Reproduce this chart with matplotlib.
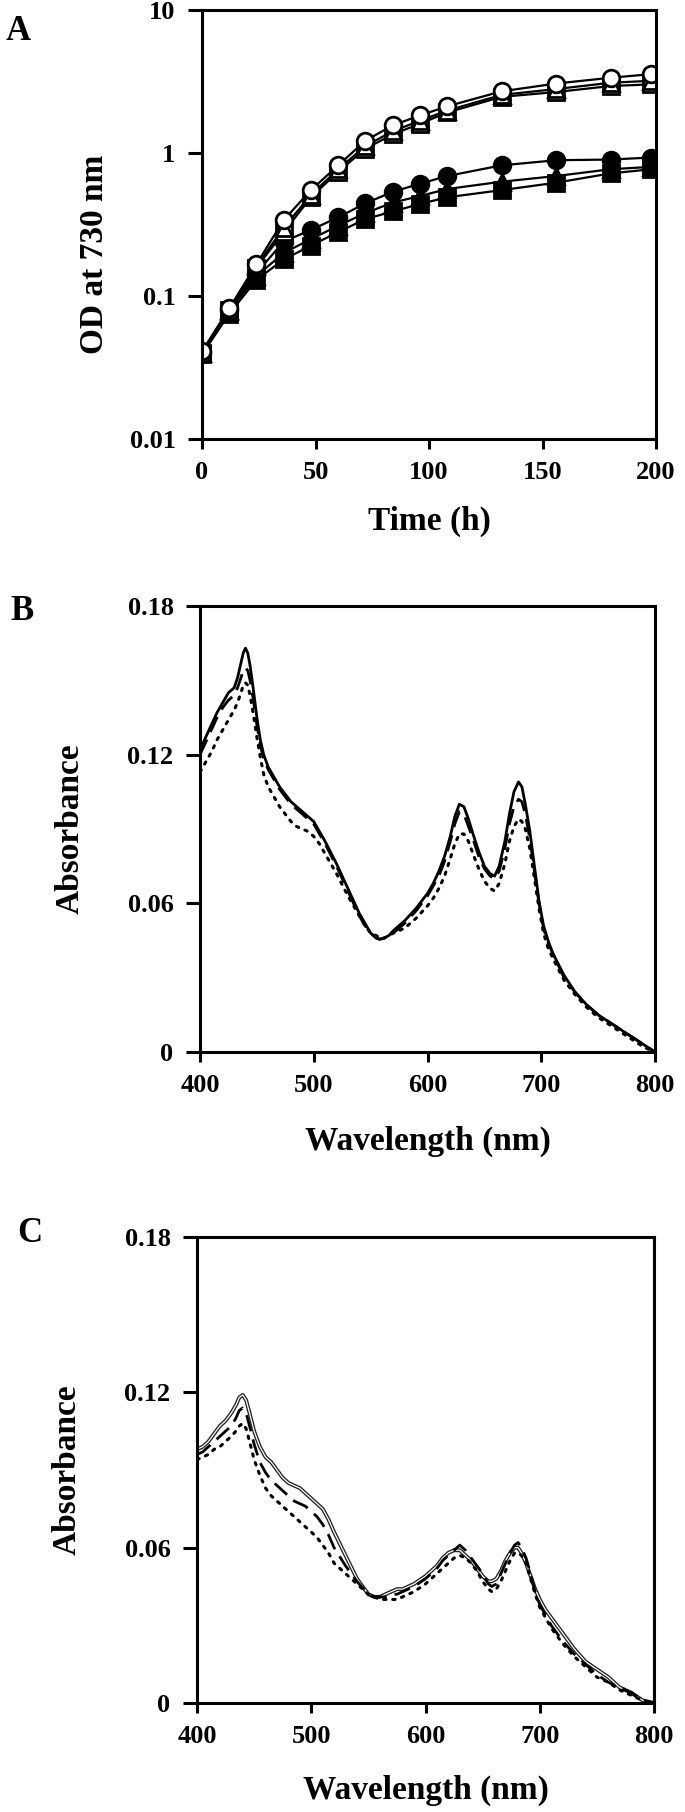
import numpy as np
import matplotlib
matplotlib.use("Agg")
import matplotlib.pyplot as plt
import matplotlib.patheffects as pe
from matplotlib.ticker import FixedLocator, NullLocator

plt.rcParams['font.family'] = ['Liberation Serif', 'DejaVu Serif']
plt.rcParams['font.weight'] = 'bold'

# ---- panel A : growth curves (OD at 730 nm) ----
time_h = [0, 12, 24, 36, 48, 60, 72, 84, 96, 108, 132, 156, 180, 198]
od_open_circle = [0.041, 0.082, 0.167, 0.34, 0.55, 0.82, 1.22, 1.56, 1.83, 2.12, 2.70, 3.06, 3.36, 3.56]
od_open_triangle = [0.040, 0.080, 0.162, 0.30, 0.51, 0.77, 1.12, 1.42, 1.68, 1.98, 2.55, 2.80, 3.10, 3.20]
od_open_square = [0.040, 0.080, 0.158, 0.28, 0.49, 0.74, 1.07, 1.35, 1.60, 1.92, 2.47, 2.67, 2.94, 3.02]
od_fill_circle = [0.040, 0.080, 0.145, 0.24, 0.29, 0.355, 0.445, 0.535, 0.61, 0.69, 0.82, 0.89, 0.90, 0.93]
od_fill_triangle = [0.040, 0.078, 0.138, 0.20, 0.25, 0.31, 0.38, 0.45, 0.50, 0.56, 0.63, 0.69, 0.77, 0.80]
od_fill_square = [0.039, 0.075, 0.130, 0.18, 0.225, 0.28, 0.345, 0.39, 0.44, 0.49, 0.55, 0.62, 0.72, 0.77]

# ---- panel B : absorbance spectra ----
wl_b = [400, 405, 410, 415, 420, 425, 430, 433, 436, 438,
        440, 442, 444, 447, 450, 453, 456, 460, 465, 470,
        475, 480, 485, 490, 495, 500, 505, 510, 520, 530,
        540, 545, 550, 555, 558, 562, 566, 570, 580, 590,
        600, 605, 610, 615, 620, 624, 628, 632, 636, 640,
        645, 650, 655, 659, 663, 668, 672, 676, 680, 683,
        686, 690, 694, 698, 702, 706, 710, 720, 730, 740,
        750, 760, 770, 780, 790, 800]
abs_b_solid = [0.122, 0.127, 0.132, 0.137, 0.141, 0.145, 0.147, 0.151, 0.157, 0.161,
               0.163, 0.161, 0.156, 0.146, 0.135, 0.126, 0.120, 0.115, 0.111, 0.107,
               0.104, 0.101, 0.099, 0.097, 0.095, 0.093, 0.089, 0.085, 0.076, 0.066,
               0.056, 0.052, 0.048, 0.046, 0.0455, 0.046, 0.047, 0.049, 0.053, 0.058,
               0.064, 0.068, 0.073, 0.079, 0.087, 0.095, 0.100, 0.099, 0.094, 0.088,
               0.081, 0.075, 0.072, 0.071, 0.075, 0.085, 0.096, 0.105, 0.109, 0.107,
               0.100, 0.089, 0.075, 0.061, 0.051, 0.045, 0.040, 0.031, 0.024, 0.019,
               0.015, 0.012, 0.009, 0.006, 0.003, 0.000]
abs_b_dash = [0.120, 0.125, 0.130, 0.135, 0.139, 0.142, 0.144, 0.147, 0.151, 0.154,
              0.155, 0.154, 0.150, 0.142, 0.132, 0.124, 0.118, 0.114, 0.110, 0.106,
              0.103, 0.100, 0.098, 0.096, 0.094, 0.092, 0.088, 0.084, 0.075, 0.065,
              0.055, 0.051, 0.048, 0.046, 0.0455, 0.046, 0.047, 0.048, 0.052, 0.057,
              0.063, 0.067, 0.071, 0.077, 0.085, 0.092, 0.097, 0.096, 0.091, 0.086,
              0.079, 0.074, 0.071, 0.070, 0.073, 0.082, 0.092, 0.099, 0.102, 0.101,
              0.096, 0.086, 0.073, 0.060, 0.050, 0.044, 0.040, 0.030, 0.024, 0.019,
              0.015, 0.012, 0.009, 0.006, 0.003, 0.000]
abs_b_dot = [0.113, 0.117, 0.121, 0.126, 0.130, 0.134, 0.138, 0.141, 0.145, 0.148,
             0.149, 0.148, 0.144, 0.136, 0.127, 0.119, 0.112, 0.107, 0.103, 0.099,
             0.096, 0.093, 0.091, 0.090, 0.089, 0.087, 0.084, 0.080, 0.072, 0.063,
             0.055, 0.051, 0.048, 0.047, 0.046, 0.046, 0.047, 0.048, 0.050, 0.054,
             0.059, 0.062, 0.066, 0.071, 0.078, 0.084, 0.088, 0.088, 0.085, 0.080,
             0.074, 0.069, 0.066, 0.065, 0.068, 0.076, 0.085, 0.091, 0.094, 0.093,
             0.090, 0.082, 0.070, 0.058, 0.048, 0.042, 0.038, 0.029, 0.023, 0.018,
             0.014, 0.011, 0.008, 0.005, 0.002, 0.000]

# ---- panel C : absorbance spectra ----
wl_c = [400, 405, 410, 415, 420, 425, 430, 434, 437, 440,
        443, 446, 450, 455, 460, 465, 470, 475, 480, 485,
        490, 495, 500, 505, 510, 515, 520, 530, 540, 550,
        555, 560, 565, 570, 575, 580, 590, 600, 610, 615,
        620, 625, 630, 635, 640, 645, 650, 655, 658, 662,
        666, 670, 674, 678, 681, 684, 688, 692, 696, 700,
        705, 710, 720, 730, 740, 750, 760, 770, 780, 790,
        800]
abs_c_solid = [0.098, 0.099, 0.101, 0.104, 0.107, 0.109, 0.112, 0.115, 0.118, 0.119,
               0.117, 0.112, 0.105, 0.099, 0.095, 0.093, 0.090, 0.087, 0.085, 0.084,
               0.083, 0.081, 0.079, 0.077, 0.075, 0.071, 0.066, 0.057, 0.048, 0.042,
               0.041, 0.041, 0.042, 0.043, 0.044, 0.044, 0.046, 0.049, 0.053, 0.056,
               0.058, 0.059, 0.059, 0.057, 0.055, 0.052, 0.049, 0.047, 0.047, 0.048,
               0.051, 0.055, 0.058, 0.060, 0.060, 0.058, 0.054, 0.049, 0.044, 0.040,
               0.036, 0.033, 0.027, 0.021, 0.016, 0.013, 0.010, 0.006, 0.004, 0.001,
               0.000]
abs_c_dash = [0.096, 0.097, 0.099, 0.101, 0.103, 0.105, 0.107, 0.110, 0.113, 0.114,
              0.112, 0.107, 0.100, 0.093, 0.089, 0.086, 0.084, 0.082, 0.080, 0.078,
              0.077, 0.076, 0.074, 0.072, 0.069, 0.065, 0.060, 0.053, 0.047, 0.042,
              0.041, 0.041, 0.041, 0.042, 0.042, 0.043, 0.045, 0.048, 0.052, 0.055,
              0.057, 0.059, 0.061, 0.059, 0.056, 0.053, 0.050, 0.046, 0.045, 0.046,
              0.050, 0.054, 0.058, 0.061, 0.062, 0.060, 0.056, 0.050, 0.043, 0.038,
              0.034, 0.030, 0.024, 0.019, 0.015, 0.011, 0.008, 0.006, 0.004, 0.001,
              0.000]
abs_c_dot = [0.094, 0.095, 0.096, 0.098, 0.099, 0.101, 0.103, 0.105, 0.107, 0.108,
             0.106, 0.101, 0.094, 0.088, 0.083, 0.080, 0.078, 0.076, 0.074, 0.072,
             0.070, 0.068, 0.066, 0.064, 0.061, 0.058, 0.054, 0.050, 0.046, 0.042,
             0.041, 0.040, 0.040, 0.040, 0.040, 0.041, 0.043, 0.046, 0.050, 0.052,
             0.054, 0.056, 0.057, 0.056, 0.054, 0.051, 0.047, 0.044, 0.043, 0.044,
             0.047, 0.051, 0.055, 0.058, 0.058, 0.057, 0.054, 0.048, 0.042, 0.037,
             0.033, 0.029, 0.023, 0.018, 0.014, 0.010, 0.008, 0.005, 0.003, 0.001,
             0.000]

W, H = 685, 1812
fig = plt.figure(figsize=(W / 100, H / 100), dpi=100)


def make_axes(left, top, right, bottom):
    return fig.add_axes([left / W, 1 - bottom / H, (right - left) / W, (bottom - top) / H])


def style(ax):
    for s in ax.spines.values():
        s.set_linewidth(2.2)
        s.set_color('black')
    ax.tick_params(axis='y', direction='out', length=10, width=2.2, pad=9, labelsize=19)
    ax.tick_params(axis='x', direction='out', length=7.5, width=2.2, pad=8, labelsize=19)
    for lab in ax.get_xticklabels() + ax.get_yticklabels():
        lab.set_fontweight('bold')


# panel A
axA = make_axes(202, 10, 656, 439)
mk = dict(color='black', lw=1.6, ms=12, mew=2)
axA.plot(time_h, od_fill_square, marker='s', mfc='black', mec='black', **mk)
axA.plot(time_h, od_fill_triangle, marker='^', mfc='black', mec='black', **mk)
axA.plot(time_h, od_fill_circle, marker='o', mfc='black', mec='black', **mk)
axA.plot(time_h, od_open_square, marker='s', mfc='white', mec='black', **mk)
axA.plot(time_h, od_open_triangle, marker='^', mfc='white', mec='black', **mk)
axA.plot(time_h, od_open_circle, marker='o', mfc='white', mec='black', **mk)
axA.set_yscale('log')
axA.set_ylim(0.01, 10)
axA.set_xlim(0, 200)
axA.yaxis.set_major_locator(FixedLocator([0.01, 0.1, 1, 10]))
axA.yaxis.set_minor_locator(NullLocator())
axA.set_yticklabels(['0.01', '0.1', '1', '10'])
axA.set_xticks([0, 50, 100, 150, 200])
style(axA)
axA.set_xlabel('Time (h)', fontsize=24, fontweight='bold', va='center')
axA.xaxis.set_label_coords(0.5, -0.191)
axA.set_ylabel('OD at 730 nm', fontsize=24, fontweight='bold', va='center')
axA.yaxis.set_label_coords(-0.236, 0.43)
fig.text(18 / W, 1 - 31 / H, 'A', fontsize=25, fontweight='bold', ha='center', va='center')


def spectra(ax, wl, solid, dash, dot, hollow):
    if hollow:
        ax.plot(wl, solid, color='white', lw=0.9,
                path_effects=[pe.Stroke(linewidth=2.8, foreground='#222222'), pe.Normal()])
    else:
        ax.plot(wl, solid, color='black', lw=2.0)
    ax.plot(wl, dash, color='black', lw=2.0, linestyle=(0, (6, 3)))
    ax.plot(wl, dot, color='black', lw=2.2, linestyle=(0, (0.8, 2.2)), dash_capstyle='round')
    ax.set_xlim(400, 800)
    ax.set_ylim(0, 0.18)
    ax.set_xticks([400, 500, 600, 700, 800])
    ax.set_yticks([0, 0.06, 0.12, 0.18])
    ax.set_yticklabels(['0', '0.06', '0.12', '0.18'])
    style(ax)
    ax.set_xlabel('Wavelength (nm)', fontsize=24, fontweight='bold', va='center')
    ax.set_ylabel('Absorbance', fontsize=24, fontweight='bold', va='center')


# panel B
axB = make_axes(200, 606, 655, 1052)
spectra(axB, wl_b, abs_b_solid, abs_b_dash, abs_b_dot, False)
axB.xaxis.set_label_coords(0.5, -0.2)
axB.yaxis.set_label_coords(-0.286, 0.5)
fig.text(22 / W, 1 - 611 / H, 'B', fontsize=25, fontweight='bold', ha='center', va='center')

# panel C
axC = make_axes(197, 1237, 654, 1703)
spectra(axC, wl_c, abs_c_solid, abs_c_dash, abs_c_dot, True)
axC.xaxis.set_label_coords(0.5, -0.187)
axC.yaxis.set_label_coords(-0.284, 0.5)
fig.text(30 / W, 1 - 1233 / H, 'C', fontsize=25, fontweight='bold', ha='center', va='center')

fig.savefig('out.png', dpi=100)
